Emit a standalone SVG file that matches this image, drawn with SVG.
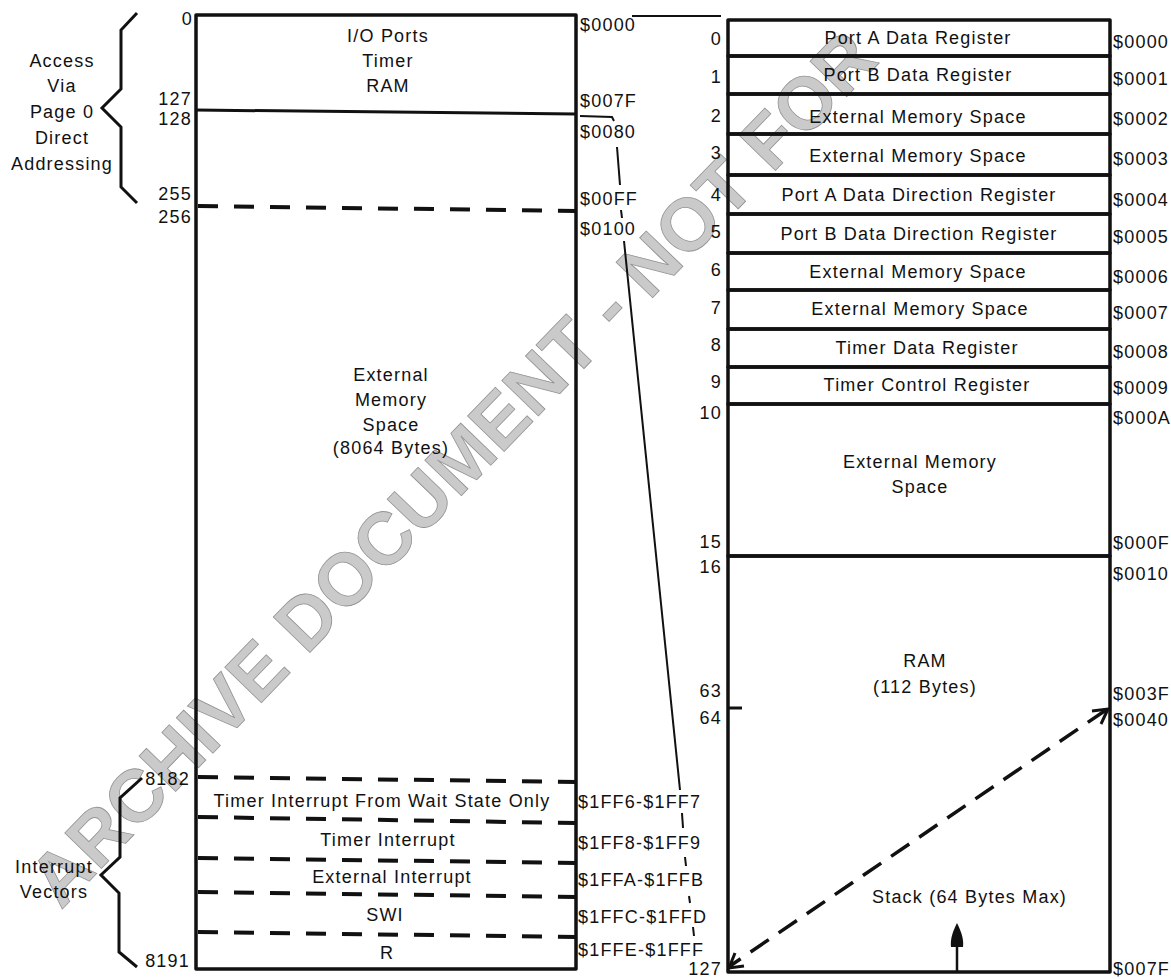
<svg xmlns="http://www.w3.org/2000/svg" width="1171" height="979" viewBox="0 0 1171 979">
<style>
text{font-family:"Liberation Sans",Arial,Helvetica,sans-serif;font-size:18px;letter-spacing:1.2px;fill:#111}
.m{text-anchor:middle}
.e{text-anchor:end}
.box{fill:none;stroke:#111;stroke-width:3.5;stroke-linejoin:round}
.ln{fill:none;stroke:#111;stroke-width:3}
.dash{fill:none;stroke:#111;stroke-width:4;stroke-dasharray:20 16}
.thin{fill:none;stroke:#111;stroke-width:2}
.brace{fill:none;stroke:#111;stroke-width:3;stroke-linejoin:miter}
.wm{font-family:"Liberation Sans",Arial,sans-serif;font-weight:bold;font-size:74px;letter-spacing:0px;fill:#cacaca;stroke:#929292;stroke-width:0.8}
</style>

<g id="watermark">
<text class="wm" text-anchor="middle" transform="translate(452,468) rotate(-46)" x="0" y="26">ARCHIVE DOCUMENT - NOT FOR</text>
</g>

<g id="brace-page0">
<path class="brace" d="M137,13 L121,30 L121,89 L102,108 L121,127 L121,187 L137,203"/>
<text class="m" x="62" y="67">Access</text>
<text class="m" x="62" y="92">Via</text>
<text class="m" x="62" y="118">Page 0</text>
<text class="m" x="62" y="144">Direct</text>
<text class="m" x="62" y="170">Addressing</text>
</g>

<g id="brace-vectors">
<path class="brace" d="M142,778 L120,798 L120,857 L101,875 L119,893 L119,952 L137,967"/>
<text class="m" x="54" y="873">Interrupt</text>
<text class="m" x="54" y="898">Vectors</text>
</g>

<g id="full-map">
<rect class="box" x="196" y="15" width="380" height="954"/>
<line class="ln" x1="196" y1="110" x2="576" y2="114"/>
<line class="dash" x1="198" y1="206" x2="576" y2="211"/>
<line class="dash" x1="198" y1="777" x2="576" y2="782"/>
<line class="dash" x1="198" y1="817" x2="576" y2="823"/>
<line class="dash" x1="198" y1="858" x2="576" y2="863"/>
<line class="dash" x1="198" y1="892" x2="576" y2="897"/>
<line class="dash" x1="198" y1="932" x2="576" y2="937"/>
<text class="m" x="388" y="42">I/O Ports</text>
<text class="m" x="388" y="67">Timer</text>
<text class="m" x="388" y="92">RAM</text>
<text class="m" x="391" y="381">External</text>
<text class="m" x="391" y="406">Memory</text>
<text class="m" x="391" y="431">Space</text>
<text class="m" x="391" y="454">(8064 Bytes)</text>
<text class="m" x="382" y="807">Timer Interrupt From Wait State Only</text>
<text class="m" x="388" y="846">Timer Interrupt</text>
<text class="m" x="392" y="883">External Interrupt</text>
<text class="m" x="385" y="921">SWI</text>
<text class="m" x="387" y="959">R</text>
<text class="e" x="193" y="25">0</text>
<text class="e" x="192" y="105">127</text>
<text class="e" x="192" y="125">128</text>
<text class="e" x="192" y="200">255</text>
<text class="e" x="192" y="223">256</text>
<text class="e" x="190" y="785">8182</text>
<text class="e" x="190" y="967">8191</text>
<text x="580" y="31">$0000</text>
<text x="580" y="107">$007F</text>
<text x="580" y="138">$0080</text>
<text x="580" y="205">$00FF</text>
<text x="580" y="235">$0100</text>
<text x="578" y="808">$1FF6-$1FF7</text>
<text x="578" y="849">$1FF8-$1FF9</text>
<text x="578" y="886">$1FFA-$1FFB</text>
<text x="578" y="923">$1FFC-$1FFD</text>
<text x="578" y="956">$1FFE-$1FFF</text>
</g>

<g id="page0-map">
<g id="row-0"><rect class="box" x="728" y="20" width="382" height="36"/><text class="m" x="918" y="44">Port A Data Register</text></g>
<g id="row-1"><rect class="box" x="728" y="56" width="382" height="38"/><text class="m" x="918" y="81">Port B Data Register</text></g>
<g id="row-2"><rect class="box" x="728" y="94" width="382" height="40"/><text class="m" x="918" y="123">External Memory Space</text></g>
<g id="row-3"><rect class="box" x="728" y="134" width="382" height="41"/><text class="m" x="918" y="162">External Memory Space</text></g>
<g id="row-4"><rect class="box" x="728" y="175" width="382" height="39"/><text class="m" x="919" y="201">Port A Data Direction Register</text></g>
<g id="row-5"><rect class="box" x="728" y="214" width="382" height="39"/><text class="m" x="919" y="240">Port B Data Direction Register</text></g>
<g id="row-6"><rect class="box" x="728" y="253" width="382" height="37"/><text class="m" x="918" y="278">External Memory Space</text></g>
<g id="row-7"><rect class="box" x="728" y="290" width="382" height="39"/><text class="m" x="920" y="315">External Memory Space</text></g>
<g id="row-8"><rect class="box" x="728" y="329" width="382" height="38"/><text class="m" x="927" y="354">Timer Data Register</text></g>
<g id="row-9"><rect class="box" x="728" y="367" width="382" height="37"/><text class="m" x="927" y="391">Timer Control Register</text></g>
<g id="row-10-15"><rect class="box" x="728" y="404" width="382" height="152"/><text class="m" x="920" y="468">External Memory</text><text class="m" x="920" y="493">Space</text></g>
<g id="row-ram"><rect class="box" x="728" y="556" width="382" height="416"/>
<text class="m" x="925" y="667">RAM</text><text class="m" x="925" y="693">(112 Bytes)</text>
<line class="ln" x1="728" y1="708" x2="742" y2="708"/>
<text x="872" y="903">Stack (64 Bytes Max)</text>
</g>
<text class="e" x="722" y="45">0</text>
<text class="e" x="722" y="83">1</text>
<text class="e" x="722" y="122">2</text>
<text class="e" x="722" y="159">3</text>
<text class="e" x="722" y="201">4</text>
<text class="e" x="722" y="238">5</text>
<text class="e" x="722" y="276">6</text>
<text class="e" x="722" y="314">7</text>
<text class="e" x="722" y="351">8</text>
<text class="e" x="722" y="388">9</text>
<text class="e" x="722" y="419">10</text>
<text class="e" x="722" y="548">15</text>
<text class="e" x="722" y="573">16</text>
<text class="e" x="722" y="697">63</text>
<text class="e" x="722" y="724">64</text>
<text class="e" x="722" y="975">127</text>
<text x="1113" y="48">$0000</text>
<text x="1113" y="85">$0001</text>
<text x="1113" y="125">$0002</text>
<text x="1113" y="165">$0003</text>
<text x="1113" y="206">$0004</text>
<text x="1113" y="243">$0005</text>
<text x="1113" y="283">$0006</text>
<text x="1113" y="319">$0007</text>
<text x="1113" y="358">$0008</text>
<text x="1113" y="394">$0009</text>
<text x="1113" y="424">$000A</text>
<text x="1113" y="549">$000F</text>
<text x="1113" y="580">$0010</text>
<text x="1113" y="700">$003F</text>
<text x="1113" y="726">$0040</text>
<text x="1113" y="975">$007F</text>
</g>

<g id="connectors">
<line class="thin" x1="632" y1="16" x2="721" y2="16"/>
<polyline class="thin" points="580,116 612,117 614,121"/>
<line class="thin" x1="617" y1="147" x2="620" y2="185"/>
<line class="thin" x1="621" y1="210" x2="622" y2="218"/>
<line class="thin" x1="624" y1="241" x2="680" y2="790"/>
<line class="thin" x1="682" y1="813" x2="683" y2="828"/>
<line class="thin" x1="685" y1="857" x2="686" y2="866"/>
<line class="thin" x1="689" y1="896" x2="690" y2="903"/>
<line class="thin" x1="693" y1="927" x2="694" y2="936"/>
<line x1="1106" y1="710" x2="730" y2="966" fill="none" stroke="#111" stroke-width="3.5" stroke-dasharray="22 12"/>
<polyline fill="none" stroke="#111" stroke-width="3" points="1092,711 1108,709 1101,724"/>
<polyline fill="none" stroke="#111" stroke-width="3" points="744,966 729,968 735,953"/>
<line x1="957" y1="945" x2="957" y2="972" stroke="#111" stroke-width="2.5"/>
<path d="M957,923 C961,931 964,939 963,947 L951,947 C950,939 953,931 957,923 Z" fill="#111"/>
</g>
</svg>
